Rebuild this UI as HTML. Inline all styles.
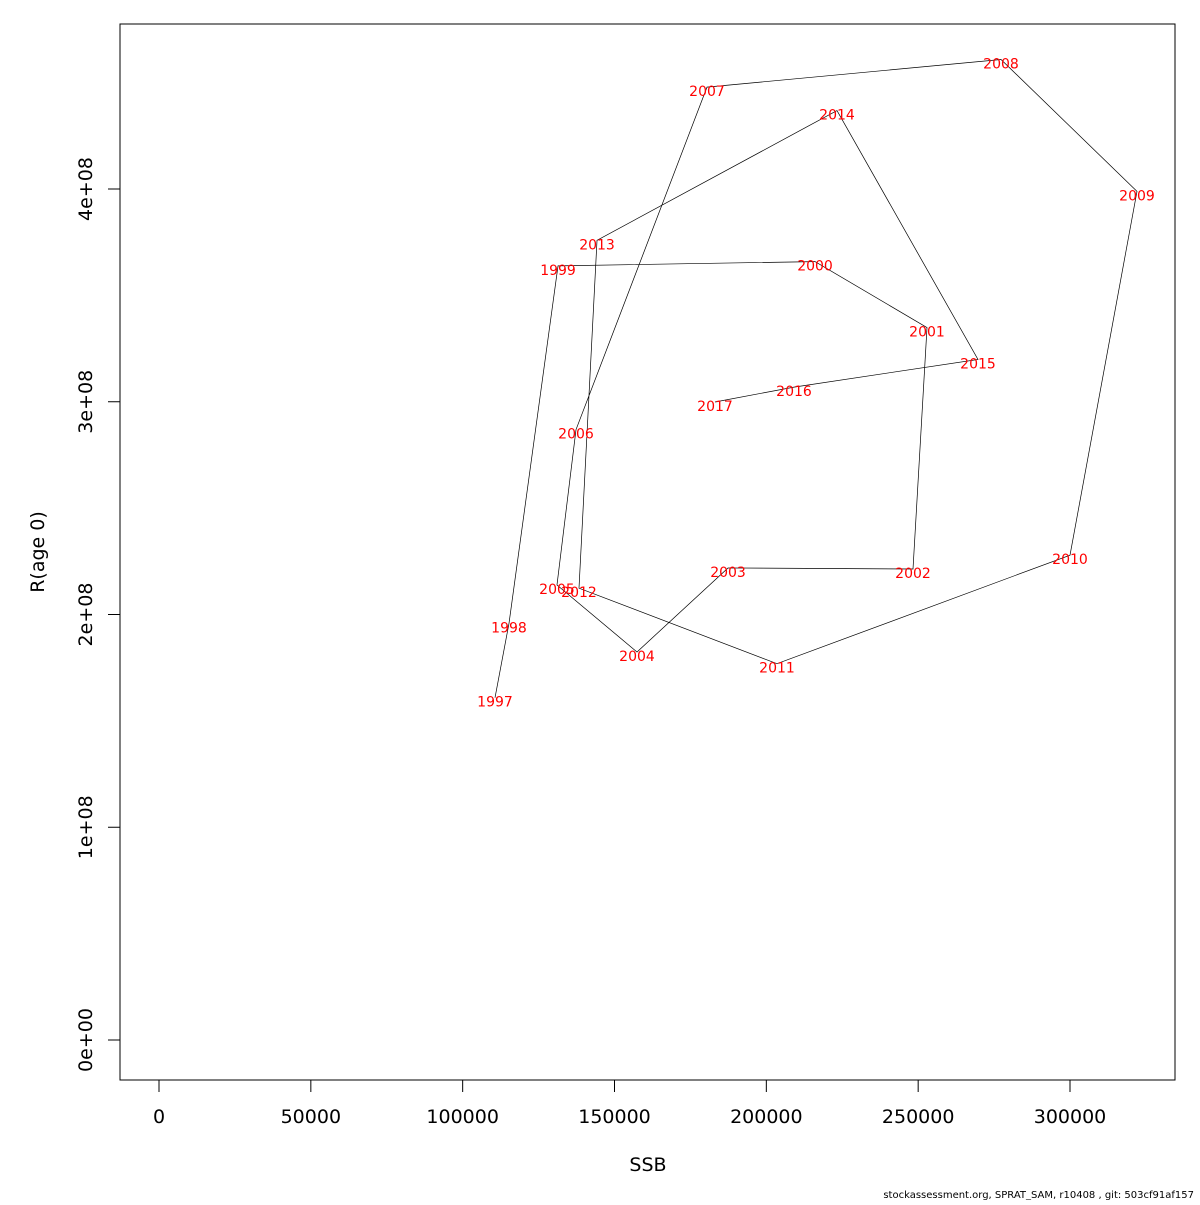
<!DOCTYPE html>
<html><head><meta charset="utf-8"><style>
body{margin:0;background:#fff}
svg text{font-family:"DejaVu Sans","Liberation Sans",sans-serif}
</style></head><body>
<svg id="chart" width="1200" height="1200" xmlns="http://www.w3.org/2000/svg">
<rect x="120" y="24" width="1055" height="1056" fill="none" stroke="#000" stroke-width="1"/>
<g id="xaxis"></g>
<g id="yaxis"></g>
<g id="series"></g>
<text x="648" y="1171" font-size="19" text-anchor="middle">SSB</text>
<text transform="translate(44,552) rotate(-90)" font-size="19" text-anchor="middle">R(age 0)</text>
<text x="1194" y="1198" font-size="10" text-anchor="end">stockassessment.org, SPRAT_SAM, r10408 , git: 503cf91af157</text>
</svg>
<script>
const years=[1997,1998,1999,2000,2001,2002,2003,2004,2005,2006,2007,2008,2009,2010,2011,2012,2013,2014,2015,2016,2017];
const ssb=[110650,115260,131400,216030,252910,248300,187380,157410,131060,137320,180460,277280,322060,300000,203510,138310,144240,223270,269700,209110,183090];
const rec=[1.59e8,1.94e8,3.62e8,3.64e8,3.33e8,2.195e8,2.20e8,1.805e8,2.12e8,2.85e8,4.46e8,4.59e8,3.97e8,2.26e8,1.75e8,2.105e8,3.74e8,4.35e8,3.18e8,3.05e8,2.98e8];
const xTicks=[0,50000,100000,150000,200000,250000,300000];
const yTicks=[0,1e8,2e8,3e8,4e8];
const yTickLabels=["0e+00","1e+08","2e+08","3e+08","4e+08"];
const NS="http://www.w3.org/2000/svg";
function sx(v){return 159+v*(911/300000);}
function sy(v){return 1040-v*(212.75/1e8);}
function mk(t,a,p){const e=document.createElementNS(NS,t);for(const k in a)e.setAttribute(k,a[k]);p.appendChild(e);return e;}
const xa=document.getElementById('xaxis'),ya=document.getElementById('yaxis'),sg=document.getElementById('series');
mk('line',{x1:sx(0),x2:sx(300000),y1:1080,y2:1080,stroke:'#000'},xa);
xTicks.forEach(v=>{
 const l=mk('line',{x1:sx(v),x2:sx(v),y1:1080,y2:1092,stroke:'#000'},xa);
 
 
 const t=mk('text',{x:sx(v),y:1123,'font-size':19,'text-anchor':'middle'},xa);
 
 
 t.textContent=String(v);
});
yTicks.forEach((v,i)=>{
 const l=mk('line',{x1:108,x2:120,y1:sy(v),y2:sy(v),stroke:'#000'},ya);
 
 
 const t=mk('text',{transform:`translate(92,${sy(v)}) rotate(-90)`,'font-size':19,'text-anchor':'middle'},ya);
 
 
 t.textContent=yTickLabels[i];
});
const pts=ssb.map((v,i)=>sx(v)+','+(sy(rec[i])-4)).join(' ');
const pl=mk('polyline',{points:pts,fill:'none',stroke:'#000','stroke-width':0.7},sg);


years.forEach((y,i)=>{
 const t=mk('text',{x:sx(ssb[i]),y:sy(rec[i])+5,'font-size':14,fill:'#f00','text-anchor':'middle'},sg);
 
 
 t.textContent=String(y);
});
</script>
</body></html>
